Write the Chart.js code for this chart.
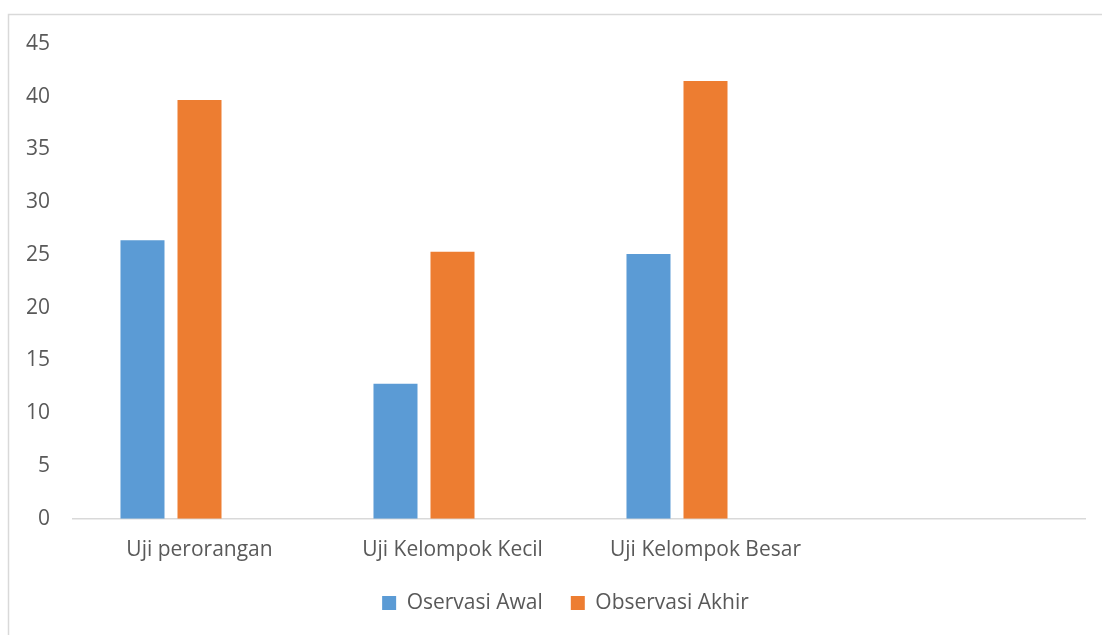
<!DOCTYPE html>
<html>
<head>
<meta charset="utf-8">
<script src="https://cdn.jsdelivr.net/npm/chart.js@4"></script>
<style>
  html, body { margin: 0; padding: 0; background: #fff; overflow: hidden; }
  #wrap { width: 1102px; height: 635px; position: relative; }
</style>
</head>
<body>
<div id="wrap"><canvas id="myChart" width="1102" height="635"></canvas></div>
<script>
const categories = ['Uji perorangan', 'Uji Kelompok Kecil', 'Uji Kelompok Besar', '']
const observasiAwal = [26.4, 12.8, 25.1, null]
const observasiAkhir = [39.7, 25.3, 41.5, null]
// empty third series, it keeps the bars left of the category centre like the original
const seriesKosong = [null, null, null, null]
const yTicks = [0, 5, 10, 15, 20, 25, 30, 35, 40, 45]

const textColor = '#595959'
const fontName = 'Open Sans'
const fontSize = 21

// light grey frame round the chart, only left and top edges are in the picture
const framePlugin = {
  id: 'frame',
  beforeDraw(chart) {
    let ctx = chart.ctx
    ctx.save()
    ctx.strokeStyle = '#d9d9d9'
    ctx.lineWidth = 1.5
    ctx.beginPath()
    ctx.moveTo(8.5, 700)
    ctx.lineTo(8.5, 14.5)
    ctx.lineTo(1102, 14.5)
    ctx.stroke()
    ctx.restore()
  }
}

// the legend in the original sits a bit right of the canvas centre
const legendShift = {
  id: 'legendShift',
  afterLayout(chart) {
    chart.legend.left += 23
    chart.legend.right += 23
  }
}

let data = {
  labels: categories,
  datasets: [{
    label: 'Oservasi Awal',
    backgroundColor: '#5B9BD5',
    data: observasiAwal,
  }, {
    label: 'Observasi Akhir',
    backgroundColor: '#ED7D31',
    data: observasiAkhir,
  }, {
    label: 'Series3',
    backgroundColor: '#A5A5A5',
    data: seriesKosong,
  }]
}

let config = {
  type: 'bar',
  data: data,
  plugins: [framePlugin, legendShift],
  options: {
    responsive: false,
    animation: false,
    categoryPercentage: 0.676,
    barPercentage: 0.772,
    layout: {
      padding: { top: 44, left: 0, right: 17, bottom: 11.5 }
    },
    scales: {
      x: {
        grid: { display: false },
        border: { display: true, color: '#d9d9d9', width: 1.5 },
        ticks: {
          color: textColor,
          font: { family: fontName, size: fontSize },
          padding: 10.5,
          maxRotation: 0,
        },
        afterFit(scale) { scale.height = 45.8 }
      },
      y: {
        min: 0,
        max: 45,
        grid: { display: false, drawTicks: false },
        border: { display: false },
        afterBuildTicks(scale) { scale.ticks = yTicks.map(v => ({ value: v })) },
        ticks: {
          color: textColor,
          font: { family: fontName, size: fontSize },
          padding: 23,
        },
        afterFit(scale) { scale.width = 73 }
      }
    },
    plugins: {
      legend: {
        position: 'bottom',
        labels: {
          color: textColor,
          font: { family: fontName, size: fontSize },
          boxWidth: 14,
          boxHeight: 14,
          padding: 28,
          filter: (item) => item.datasetIndex < 2,
        }
      },
      tooltip: { enabled: false }
    }
  }
}

let myChart = new Chart(document.getElementById('myChart'), config)
</script>
</body>
</html>
